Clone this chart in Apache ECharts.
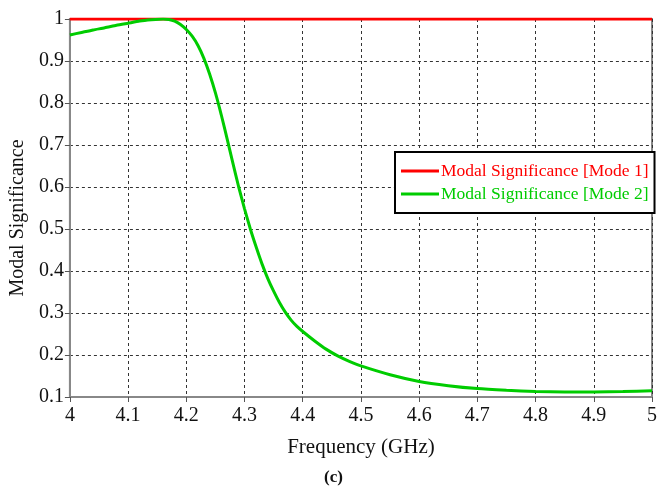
<!DOCTYPE html>
<html>
<head>
<meta charset="utf-8">
<script src="https://cdn.jsdelivr.net/npm/echarts@6/dist/echarts.min.js"></script>
<style>html,body{margin:0;padding:0;background:#fff}#c{width:667px;height:487px}</style>
</head>
<body>
<div id="c"></div>
<script>
const freq = [4.00,4.02,4.04,4.06,4.08,4.10,4.12,4.14,4.16,4.17,4.18,4.19,4.20,4.21,4.22,4.23,4.24,4.25,4.26,4.27,4.28,4.29,4.30,4.31,4.32,4.33,4.34,4.35,4.36,4.37,4.38,4.39,4.40,4.42,4.44,4.46,4.48,4.50,4.55,4.60,4.65,4.70,4.75,4.80,4.85,4.90,4.95,5.00];
const mode2 = [0.962,0.968,0.974,0.979,0.985,0.990,0.995,0.998,1.000,0.999,0.995,0.987,0.975,0.959,0.937,0.907,0.869,0.824,0.772,0.715,0.657,0.600,0.548,0.500,0.457,0.417,0.382,0.352,0.325,0.302,0.283,0.268,0.256,0.234,0.214,0.198,0.185,0.174,0.153,0.137,0.127,0.120,0.116,0.113,0.112,0.112,0.113,0.115];
const mode1Freq = [4.0, 5.0];
const mode1 = [1, 1];
const seriesNames = ['Modal Significance [Mode 1]', 'Modal Significance [Mode 2]'];
const xLabel = 'Frequency (GHz)';
const yLabel = 'Modal Significance';
const caption = '(c)';

const serif = '"Liberation Serif","DejaVu Serif",serif';
const fmt = v => String(+(+v).toFixed(1));
const chart = echarts.init(document.getElementById('c'), null, {renderer: 'canvas'});
chart.setOption({
  animation: false,
  backgroundColor: '#fff',
  grid: {left: 68, right: 15, top: 19, bottom: 90, show: true, borderColor: '#888', borderWidth: 2},
  xAxis: {
    type: 'value', min: 4, max: 5, interval: 0.1,
    name: xLabel, nameLocation: 'middle', nameGap: 40,
    nameTextStyle: {fontFamily: serif, fontSize: 21, color: '#111'},
    axisLine: {show: true, lineStyle: {color: '#888', width: 2}},
    axisTick: {show: true, length: 5, lineStyle: {color: '#555'}},
    axisLabel: {formatter: fmt, fontFamily: serif, fontSize: 20, color: '#111', margin: 9},
    splitLine: {show: true, lineStyle: {color: '#333', type: [3, 3], width: 1}}
  },
  yAxis: {
    type: 'value', min: 0.1, max: 1, interval: 0.1,
    name: yLabel, nameLocation: 'middle', nameGap: 40, nameRotate: 90,
    nameTextStyle: {fontFamily: serif, fontSize: 20, color: '#111', padding: [0, 20, 0, 0]},
    axisLine: {show: true, lineStyle: {color: '#888', width: 2}},
    axisTick: {show: true, length: 5, lineStyle: {color: '#555'}},
    axisLabel: {formatter: fmt, fontFamily: serif, fontSize: 20, color: '#111', margin: 6},
    splitLine: {show: true, lineStyle: {color: '#333', type: [3, 3], width: 1}}
  },
  legend: {
    orient: 'vertical', left: 395, top: 152, width: 256,
    borderColor: '#000', borderWidth: 2, padding: [10, 6, 10, 6],
    backgroundColor: '#fff',
    icon: 'rect', itemWidth: 38, itemHeight: 3, itemGap: 5,
    textStyle: {fontFamily: serif, fontSize: 17.5, padding: [0, 0, 0, -3]},
    data: [
      {name: seriesNames[0], textStyle: {color: '#ff0000'}},
      {name: seriesNames[1], textStyle: {color: '#00cc00'}}
    ]
  },
  graphic: [{
    type: 'text', left: 'center', top: 469,
    style: {text: caption, font: 'bold 17px ' + serif, fill: '#111'}
  }],
  series: [
    {name: seriesNames[0], type: 'line', showSymbol: false, symbol: 'none',
     lineStyle: {color: '#ff0000', width: 3}, itemStyle: {color: '#ff0000'},
     data: mode1Freq.map((f, i) => [f, mode1[i]]), z: 3},
    {name: seriesNames[1], type: 'line', showSymbol: false, symbol: 'none', smooth: 0.2,
     lineStyle: {color: '#00cc00', width: 3}, itemStyle: {color: '#00cc00'},
     data: freq.map((f, i) => [f, mode2[i]]), z: 4}
  ]
});
</script>
</body>
</html>
